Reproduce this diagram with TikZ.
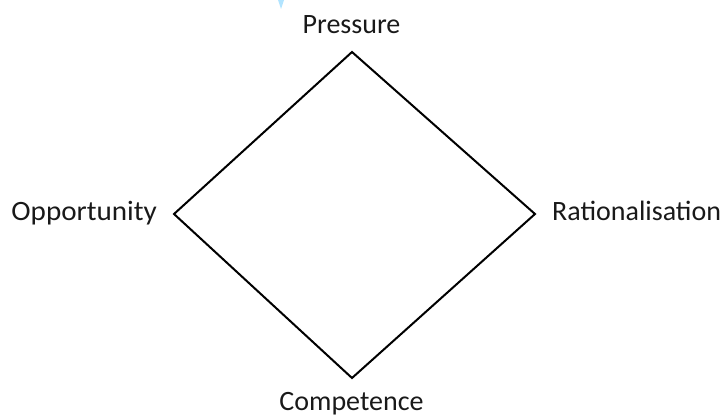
\documentclass[tikz,border=0pt]{standalone}
\usepackage{fontspec}
\setmainfont{Carlito}
\begin{document}
\begin{tikzpicture}[x=1pt,y=-1pt,
  lbl/.style={inner sep=0pt,anchor=base,font=\fontsize{28}{33}\selectfont,text=black!90},
  edge/.style={line width=2pt,line join=miter}]
\useasboundingbox (0,0) rectangle (726,418);
\fill[blue!35!cyan!30] (278,0) -- (284,0) -- (281,9) -- cycle;
\coordinate (top) at (352,52);
\coordinate (left) at (174,214);
\coordinate (right) at (535,214);
\coordinate (bottom) at (352,378);
\draw[edge] (top) -- (right) -- (bottom) -- (left) -- cycle;
\node[lbl] (p) at (351.5,33) {Pressure};
\node[lbl,anchor=base east] (o) at (157,220) {\scalebox{1.04}[1]{Opportunity}};
\node[lbl,anchor=base west] (r) at (552,220) {Rationalisation};
\node[lbl] (c) at (351.5,410) {Competence};
\end{tikzpicture}
\end{document}
